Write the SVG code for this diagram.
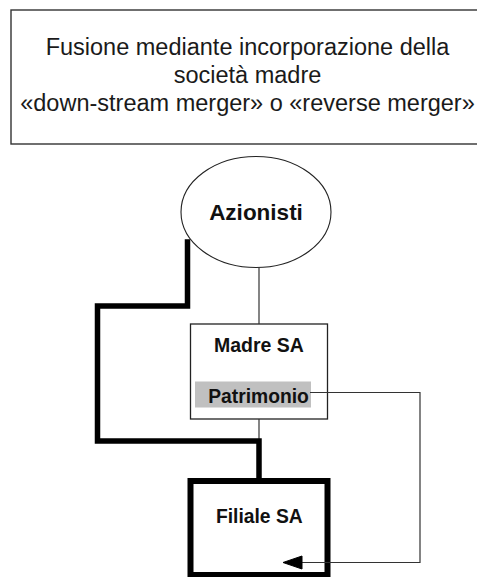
<svg xmlns="http://www.w3.org/2000/svg" width="477" height="577" viewBox="0 0 477 577">
  <defs>
    <style>
      .title { font-family: "Liberation Sans", Arial, sans-serif; font-size: 23.5px; fill: #1a1a1a; text-anchor: middle; }
      .label { font-family: "Liberation Sans", Arial, sans-serif; font-weight: bold; fill: #111; text-anchor: middle; }
      .thin { fill: none; stroke: #333; stroke-width: 1.2; }
      .thick { fill: none; stroke: #000; stroke-width: 5.5; stroke-linejoin: miter; stroke-linecap: square; }
    </style>
  </defs>
  <rect width="477" height="577" fill="#fff"/>

  <!-- heading box (runs past the right edge) -->
  <g id="title">
    <rect x="11" y="10" width="480" height="134" fill="#fff" stroke="#333" stroke-width="1.4"/>
    <text class="title" x="247.5" y="55">Fusione mediante incorporazione della</text>
    <text class="title" x="247.5" y="83">società madre</text>
    <text class="title" x="247.5" y="111">«down-stream merger» o «reverse merger»</text>
  </g>

  <g id="azionisti">
    <ellipse cx="256" cy="212" rx="75" ry="55.5" fill="#fff" stroke="#222" stroke-width="1.1"/>
    <text class="label" x="256" y="220" font-size="22.5">Azionisti</text>
  </g>

  <g id="madre">
    <rect x="190.5" y="324" width="137" height="95" fill="#fff" stroke="#222" stroke-width="1.3"/>
    <text class="label" x="259" y="352" font-size="19.5">Madre SA</text>
  </g>

  <g id="patrimonio">
    <rect x="195" y="381.5" width="116" height="26" fill="#c0c0c0"/>
    <text class="label" x="258.5" y="402.5" font-size="19.3">Patrimonio</text>
  </g>

  <g id="filiale">
    <rect x="190.5" y="481" width="137" height="94" fill="#fff" stroke="#000" stroke-width="6"/>
    <text class="label" x="259.3" y="523.3" font-size="19.3">Filiale SA</text>
  </g>

  <!-- connectors, drawn on top of the boxes -->
  <g id="connectors">
    <line class="thin" x1="259" y1="267.5" x2="259" y2="324"/>
    <line class="thin" x1="259" y1="419" x2="259" y2="441"/>
    <polyline class="thick" points="187.5,242 187.5,306 97.5,306 97.5,441 259,441 259,479"/>
    <polyline class="thin" points="310,392.5 420,392.5 420,562.5 300,562.5"/>
    <polygon points="283,562.5 302,556 302,569" fill="#000" stroke="#000" stroke-width="1"/>
  </g>
</svg>
